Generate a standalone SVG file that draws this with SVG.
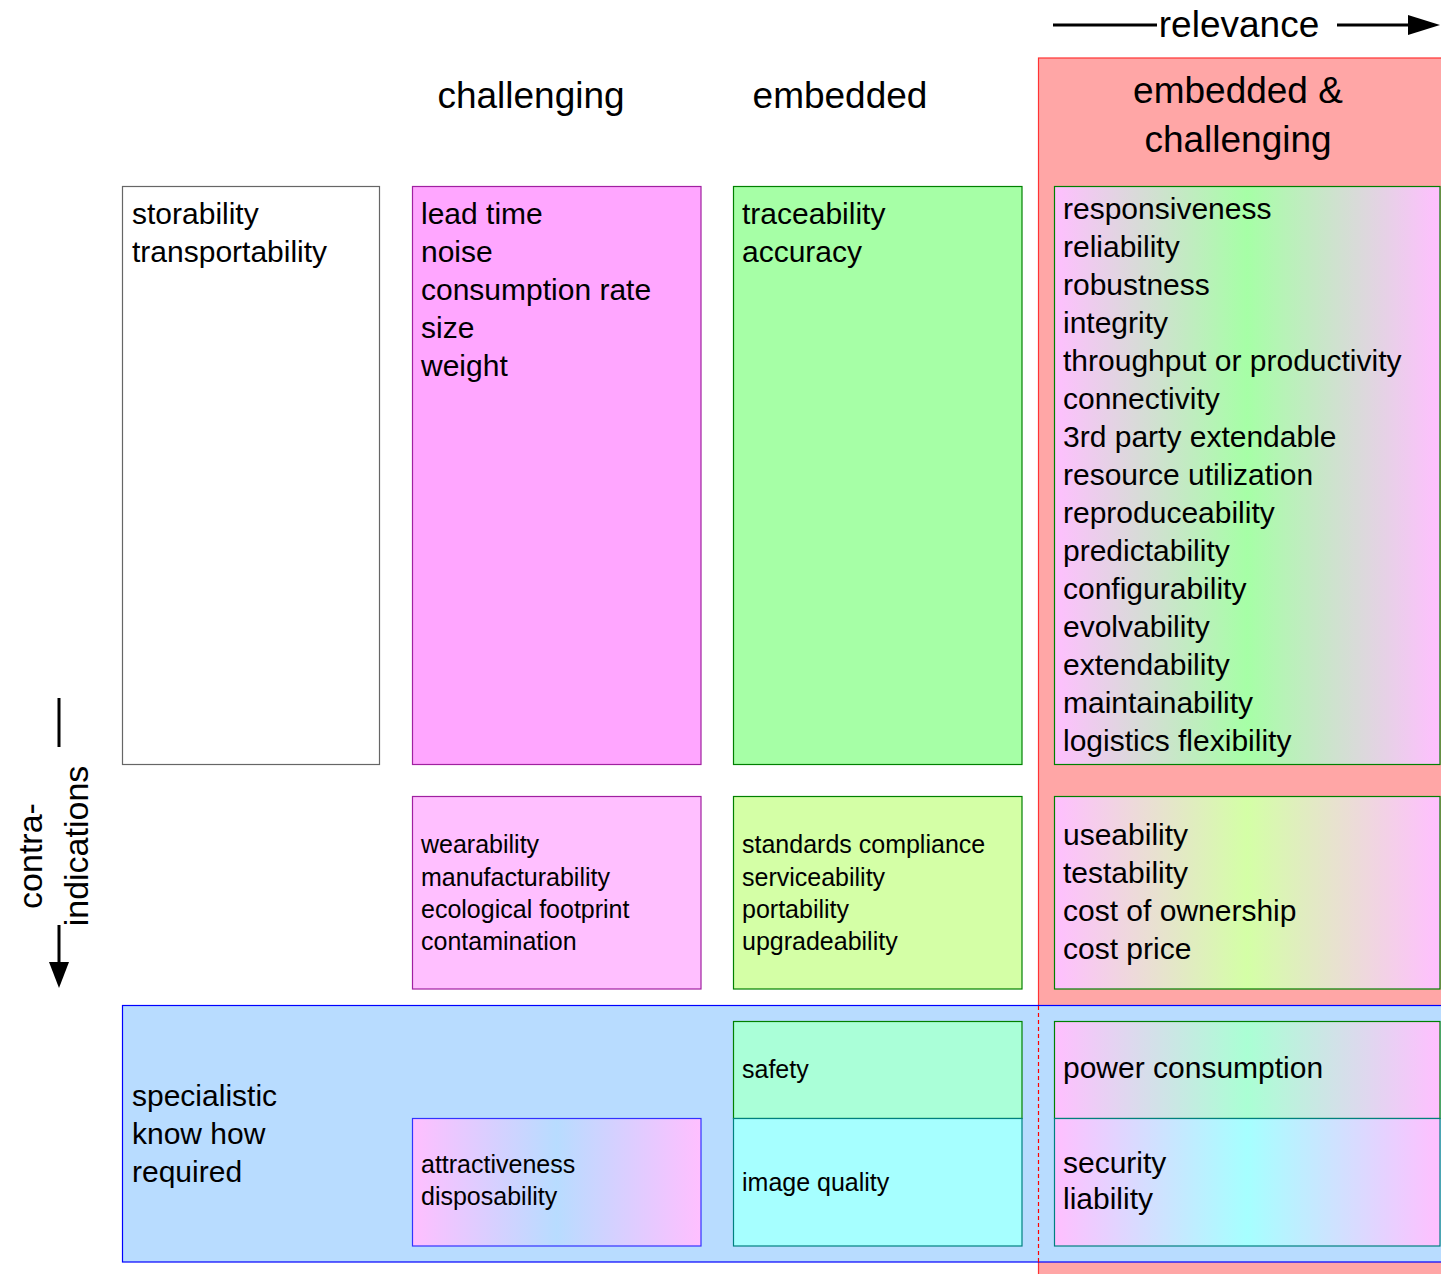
<svg xmlns="http://www.w3.org/2000/svg" width="1441" height="1274" viewBox="0 0 1441 1274">
<style>
  text { font-family: "Liberation Sans", Arial, sans-serif; fill: #000; }
  .h { font-size: 37px; }
  .b { font-size: 30px; }
  .s { font-size: 25px; }
  .box { stroke-width: 1.2; }
</style>
<defs>
  <linearGradient id="gGreen" x1="0" y1="0" x2="1" y2="0">
    <stop offset="0" stop-color="#ffbfff"/>
    <stop offset="0.5" stop-color="#a6ffa6"/>
    <stop offset="1" stop-color="#ffbfff"/>
  </linearGradient>
  <linearGradient id="gLime" x1="0" y1="0" x2="1" y2="0">
    <stop offset="0" stop-color="#ffbfff"/>
    <stop offset="0.5" stop-color="#d4ffa6"/>
    <stop offset="1" stop-color="#ffbfff"/>
  </linearGradient>
  <linearGradient id="gMint" x1="0" y1="0" x2="1" y2="0">
    <stop offset="0" stop-color="#ffbfff"/>
    <stop offset="0.5" stop-color="#aaffd4"/>
    <stop offset="1" stop-color="#ffbfff"/>
  </linearGradient>
  <linearGradient id="gCyan" x1="0" y1="0" x2="1" y2="0">
    <stop offset="0" stop-color="#ffbfff"/>
    <stop offset="0.5" stop-color="#a6ffff"/>
    <stop offset="1" stop-color="#ffbfff"/>
  </linearGradient>
  <linearGradient id="gBlue" x1="0" y1="0" x2="1" y2="0">
    <stop offset="0" stop-color="#ffbfff"/>
    <stop offset="0.5" stop-color="#b8dcff"/>
    <stop offset="1" stop-color="#ffbfff"/>
  </linearGradient>
</defs>

<g id="relevance-zone">
  <rect x="1038.5" y="58" width="404" height="1220" fill="#ffa6a6" stroke="#ff3333" stroke-width="1.2"/>
  <text class="h" x="1238" y="103" text-anchor="middle">embedded &amp;</text>
  <text class="h" x="1238" y="152" text-anchor="middle">challenging</text>
</g>

<g id="specialistic">
  <rect x="122.5" y="1005.5" width="1320" height="256.5" fill="#b8dcff" stroke="#0000ff" stroke-width="1.2"/>
  <line x1="1038.5" y1="1006" x2="1038.5" y2="1262" stroke="#ff0000" stroke-width="1.2" stroke-dasharray="4,3"/>
  <text class="b" x="132" y="1106">specialistic</text>
  <text class="b" x="132" y="1144">know how</text>
  <text class="b" x="132" y="1182">required</text>
</g>

<g id="header-challenging"><text class="h" x="531" y="108" text-anchor="middle">challenging</text></g>
<g id="header-embedded"><text class="h" x="840" y="108" text-anchor="middle">embedded</text></g>

<g id="axes">
  <line x1="1053" y1="25" x2="1157" y2="25" stroke="#000" stroke-width="3"/>
  <text class="h" x="1239" y="37" text-anchor="middle">relevance</text>
  <line x1="1337" y1="25" x2="1412" y2="25" stroke="#000" stroke-width="3"/>
  <polygon points="1408,15 1440,25 1408,35" fill="#000"/>
  <line x1="59" y1="698" x2="59" y2="747" stroke="#000" stroke-width="3"/>
  <line x1="59" y1="925" x2="59" y2="966" stroke="#000" stroke-width="3"/>
  <polygon points="49,962 59,988 69,962" fill="#000"/>
  <text class="h" transform="translate(42,856) rotate(-90)" text-anchor="middle" style="font-size:34px">contra-</text>
  <text class="h" transform="translate(88,846) rotate(-90)" text-anchor="middle" style="font-size:34px">indications</text>
</g>

<g id="box-neutral">
  <rect class="box" x="122.5" y="186.5" width="257" height="578" fill="#ffffff" stroke="#666666"/>
  <text class="b" x="132" y="224">storability</text>
  <text class="b" x="132" y="262">transportability</text>
</g>

<g id="box-challenging">
  <rect class="box" x="412.5" y="186.5" width="288.5" height="578" fill="#ffa6ff" stroke="#a020a0"/>
  <text class="b" x="421" y="224">lead time</text>
  <text class="b" x="421" y="262">noise</text>
  <text class="b" x="421" y="300">consumption rate</text>
  <text class="b" x="421" y="338">size</text>
  <text class="b" x="421" y="376">weight</text>
</g>

<g id="box-embedded">
  <rect class="box" x="733.5" y="186.5" width="288.5" height="578" fill="#a6ffa6" stroke="#008000"/>
  <text class="b" x="742" y="224">traceability</text>
  <text class="b" x="742" y="262">accuracy</text>
</g>

<g id="box-embedded-challenging">
  <rect class="box" x="1054.5" y="186.5" width="385.5" height="578" fill="url(#gGreen)" stroke="#008000"/>
  <text class="b" x="1063" y="219">responsiveness</text>
  <text class="b" x="1063" y="257">reliability</text>
  <text class="b" x="1063" y="295">robustness</text>
  <text class="b" x="1063" y="333">integrity</text>
  <text class="b" x="1063" y="371">throughput or productivity</text>
  <text class="b" x="1063" y="409">connectivity</text>
  <text class="b" x="1063" y="447">3rd party extendable</text>
  <text class="b" x="1063" y="485">resource utilization</text>
  <text class="b" x="1063" y="523">reproduceability</text>
  <text class="b" x="1063" y="561">predictability</text>
  <text class="b" x="1063" y="599">configurability</text>
  <text class="b" x="1063" y="637">evolvability</text>
  <text class="b" x="1063" y="675">extendability</text>
  <text class="b" x="1063" y="713">maintainability</text>
  <text class="b" x="1063" y="751">logistics flexibility</text>
</g>

<g id="box-challenging-2">
  <rect class="box" x="412.5" y="796.5" width="288.5" height="192.5" fill="#ffbfff" stroke="#a020a0"/>
  <text class="s" x="421" y="853">wearability</text>
  <text class="s" x="421" y="885.5">manufacturability</text>
  <text class="s" x="421" y="918">ecological footprint</text>
  <text class="s" x="421" y="950">contamination</text>
</g>

<g id="box-embedded-2">
  <rect class="box" x="733.5" y="796.5" width="288.5" height="192.5" fill="#d4ffa6" stroke="#008000"/>
  <text class="s" x="742" y="853">standards compliance</text>
  <text class="s" x="742" y="885.5">serviceability</text>
  <text class="s" x="742" y="918">portability</text>
  <text class="s" x="742" y="950">upgradeability</text>
</g>

<g id="box-embedded-challenging-2">
  <rect class="box" x="1054.5" y="796.5" width="385.5" height="192.5" fill="url(#gLime)" stroke="#008000"/>
  <text class="b" x="1063" y="845">useability</text>
  <text class="b" x="1063" y="883">testability</text>
  <text class="b" x="1063" y="921">cost of ownership</text>
  <text class="b" x="1063" y="959">cost price</text>
</g>

<g id="box-attractiveness">
  <rect class="box" x="412.5" y="1118.5" width="288.5" height="127.5" fill="url(#gBlue)" stroke="#3333ff"/>
  <text class="s" x="421" y="1173">attractiveness</text>
  <text class="s" x="421" y="1205">disposability</text>
</g>

<g id="box-safety">
  <rect class="box" x="733.5" y="1021.5" width="288.5" height="97" fill="#aaffd8" stroke="#008000"/>
  <text class="s" x="742" y="1078">safety</text>
</g>

<g id="box-image-quality">
  <rect class="box" x="733.5" y="1118.5" width="288.5" height="127.5" fill="#a6ffff" stroke="#008080"/>
  <text class="s" x="742" y="1191">image quality</text>
</g>

<g id="box-power">
  <rect class="box" x="1054.5" y="1021.5" width="385.5" height="97" fill="url(#gMint)" stroke="#008000"/>
  <text class="b" x="1063" y="1078">power consumption</text>
</g>

<g id="box-security">
  <rect class="box" x="1054.5" y="1118.5" width="385.5" height="127.5" fill="url(#gCyan)" stroke="#008080"/>
  <text class="b" x="1063" y="1173">security</text>
  <text class="b" x="1063" y="1209">liability</text>
</g>
</svg>
